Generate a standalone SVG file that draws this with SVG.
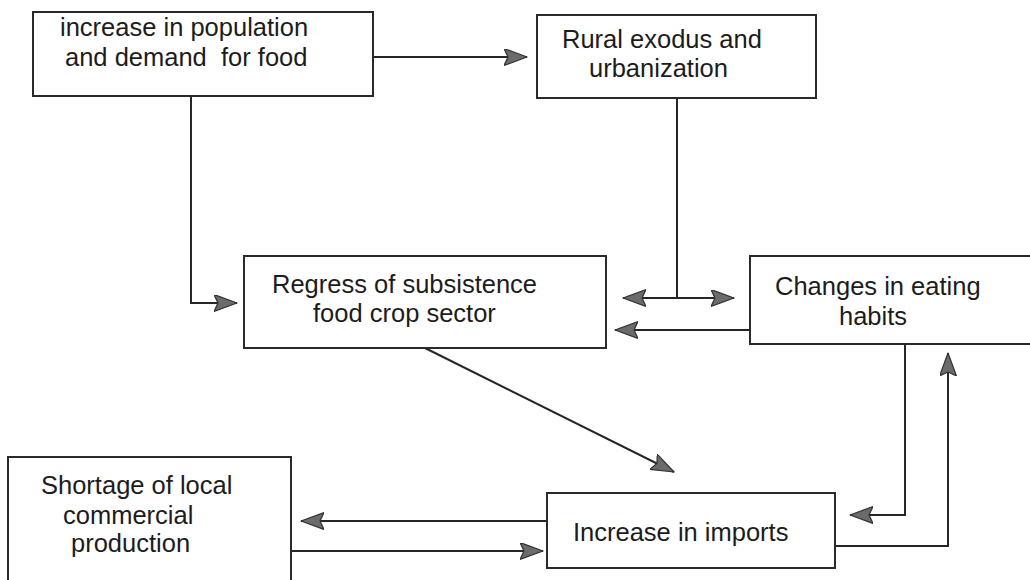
<svg xmlns="http://www.w3.org/2000/svg" width="1030" height="580" viewBox="0 0 1030 580">
  <style>
    .box { fill: #ffffff; stroke: #2a2a2a; stroke-width: 2; }
    .lbl { font-family: "Liberation Sans", Arial, sans-serif; font-size: 25.5px; fill: #1c1c1c; white-space: pre; }
    .wire { fill: none; stroke: #262626; stroke-width: 2; }
    .end { marker-end: url(#head); }
    .both { marker-start: url(#head); marker-end: url(#head); }
  </style>
  <defs>
    <marker id="head" markerUnits="userSpaceOnUse" markerWidth="26" markerHeight="20" refX="23" refY="8.5" orient="auto-start-reverse">
      <path d="M0,0 L23,8.5 L0,17 L4,8.5 Z" fill="#6b6b6b" stroke="#333333" stroke-width="1.2" stroke-linejoin="round"/>
    </marker>
  </defs>
  <rect width="1030" height="580" fill="#ffffff"/>

  <g id="node-population">
    <rect class="box" x="33" y="12" width="340" height="84"/>
    <text class="lbl" x="60" y="36">increase in population</text>
    <text class="lbl" x="65" y="66">and demand  for food</text>
  </g>

  <g id="node-exodus">
    <rect class="box" x="537" y="15" width="279" height="83"/>
    <text class="lbl" x="562" y="48">Rural exodus and</text>
    <text class="lbl" x="589" y="77">urbanization</text>
  </g>

  <g id="node-regress">
    <rect class="box" x="244" y="256" width="362" height="92"/>
    <text class="lbl" x="272" y="293">Regress of subsistence</text>
    <text class="lbl" x="313" y="322">food crop sector</text>
  </g>

  <g id="node-habits">
    <rect class="box" x="750" y="256" width="300" height="88"/>
    <text class="lbl" x="775" y="295">Changes in eating</text>
    <text class="lbl" x="839" y="325">habits</text>
  </g>

  <g id="node-shortage">
    <rect class="box" x="8" y="457" width="283" height="140"/>
    <text class="lbl" x="41" y="494">Shortage of local</text>
    <text class="lbl" x="63" y="524">commercial</text>
    <text class="lbl" x="71" y="552">production</text>
  </g>

  <g id="node-imports">
    <rect class="box" x="547" y="493" width="288" height="75"/>
    <text class="lbl" x="573" y="541">Increase in imports</text>
  </g>

  <g id="connectors">
    <path class="wire end" d="M373,57 H527"/>
    <path class="wire end" d="M191,96 V303 H237"/>
    <path class="wire" d="M677,98 V298"/>
    <path class="wire both" d="M623,298 H734"/>
    <path class="wire end" d="M750,330 H615"/>
    <path class="wire end" d="M425,348 L674,472"/>
    <path class="wire end" d="M905,344 V515 H850"/>
    <path class="wire end" d="M835,546 H948 V353"/>
    <path class="wire end" d="M547,521 H301"/>
    <path class="wire end" d="M291,551 H543"/>
  </g>
</svg>
